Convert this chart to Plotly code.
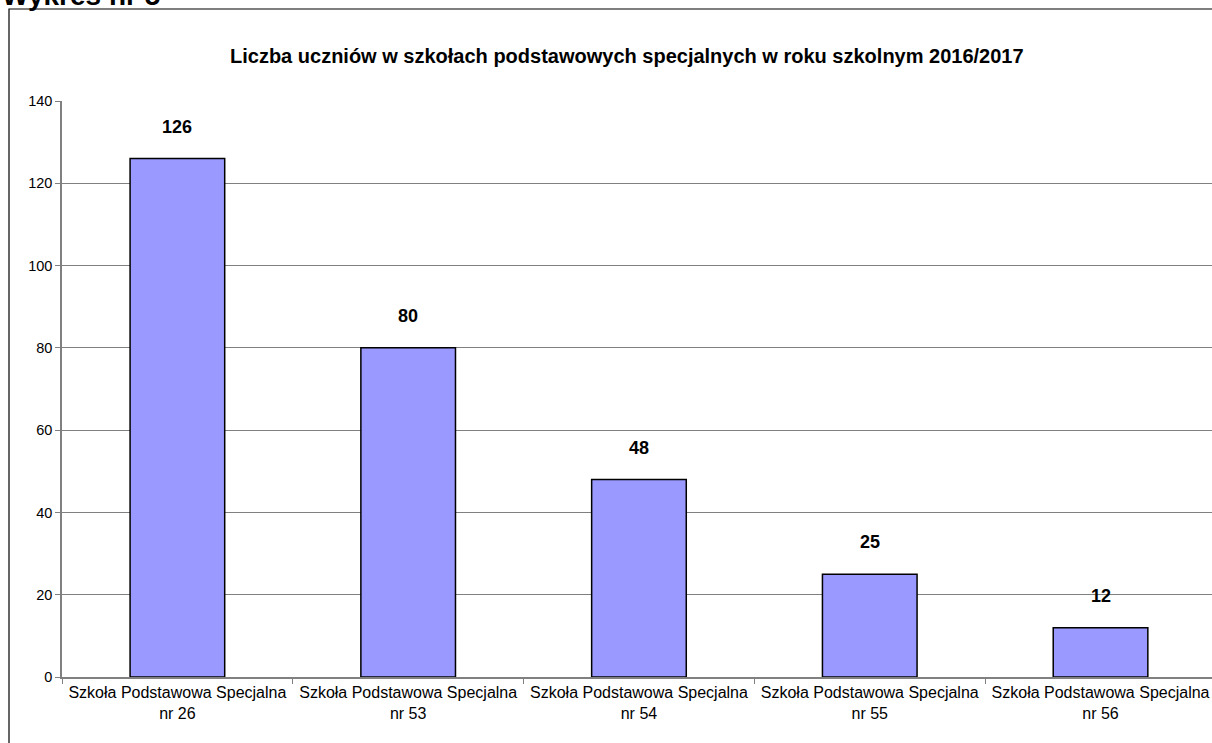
import plotly.graph_objects as go

szkoly = ['Szkoła Podstawowa Specjalna<br>nr 26', 'Szkoła Podstawowa Specjalna<br>nr 53',
          'Szkoła Podstawowa Specjalna<br>nr 54', 'Szkoła Podstawowa Specjalna<br>nr 55',
          'Szkoła Podstawowa Specjalna<br>nr 56']
uczniowie = [126, 80, 48, 25, 12]
y_ticks = [0, 20, 40, 60, 80, 100, 120, 140]

font = 'Liberation Sans, Arial, sans-serif'

fig = go.Figure()
fig.add_trace(go.Bar(
    x=szkoly, y=uczniowie,
    width=0.41,
    marker=dict(color='#9999FF', line=dict(color='black', width=1.5)),
    hoverinfo='x+y'
))

# etykiety wartości nad słupkami
for s, v in zip(szkoly, uczniowie):
    fig.add_annotation(x=s, y=v, text='<b>%d</b>' % v, showarrow=False,
                       yshift=32, font=dict(family=font, size=18, color='black'))

fig.add_annotation(xref='paper', yref='paper', x=0.491, y=1.0 + 58 / 576,
                   text='<b>Liczba uczniów w szkołach podstawowych specjalnych w roku szkolnym 2016/2017</b>',
                   showarrow=False, font=dict(family=font, size=20, color='black'))

# nagłówek ucięty u góry strony
fig.add_annotation(xref='paper', yref='paper', x=-62 / 1150, y=1.0 + 88 / 576,
                   xanchor='left', yanchor='bottom',
                   text='<b>Wykres nr 5</b>', showarrow=False,
                   font=dict(family=font, size=28, color='black'))

# ramka wykresu
fig.add_shape(type='rect', xref='paper', yref='paper',
              x0=-53 / 1150, x1=1.2, y0=-0.3, y1=(677 - 9) / 576,
              line=dict(color='black', width=1.2), layer='below')

fig.update_layout(
    width=1212, height=743,
    margin=dict(l=62, r=0, t=101, b=66),
    paper_bgcolor='white', plot_bgcolor='white',
    showlegend=False, bargap=0.59,
    font=dict(family=font, size=14, color='black'),
    xaxis=dict(range=[-0.5, 4.483], tickson='boundaries', ticks='outside', ticklen=5,
               tickcolor='#808080', showline=True, linecolor='#808080', linewidth=1.5,
               tickangle=0, showgrid=False, tickfont=dict(size=16)),
    yaxis=dict(range=[0, 140], tickvals=y_ticks, ticks='outside', ticklen=5,
               tickcolor='#808080', showline=True, linecolor='#808080', linewidth=1.5,
               showgrid=True, gridcolor='#808080', gridwidth=1, zeroline=False,
               tickfont=dict(size=14.5))
)

fig.write_html('out.html', config={'displayModeBar': False},
               post_script="document.body.style.margin='0px';")
